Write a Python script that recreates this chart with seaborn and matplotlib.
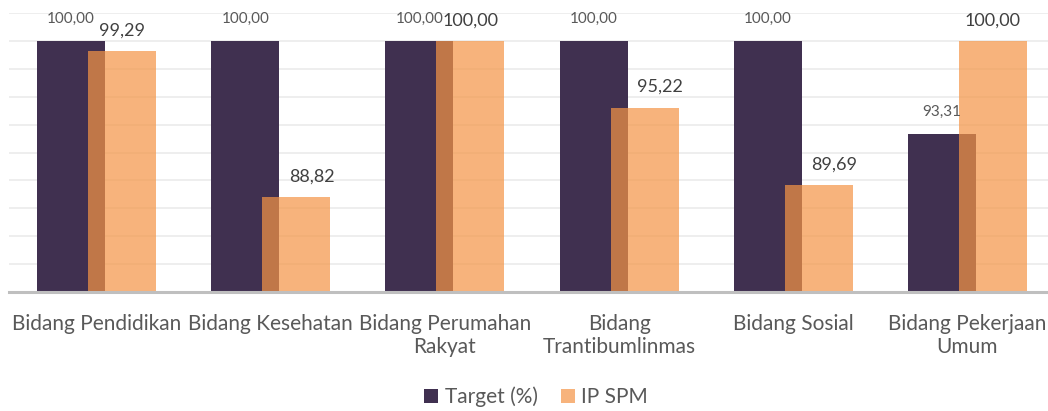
import matplotlib
matplotlib.use("Agg")
import matplotlib.pyplot as plt
import seaborn as sns
import pandas as pd
from matplotlib.patches import Patch

categories = ["Bidang Pendidikan", "Bidang Kesehatan", "Bidang Perumahan\nRakyat",
              "Bidang\nTrantibumlinmas", "Bidang Sosial", "Bidang Pekerjaan\nUmum"]
target = [100.00, 100.00, 100.00, 100.00, 100.00, 93.31]
ip_spm = [99.29, 88.82, 100.00, 95.22, 89.69, 100.00]
series_names = ["Target (%)", "IP SPM"]

sns.set_theme(style="white")
plt.rcParams['font.family'] = ['Lato', 'DejaVu Sans']

C_T = "#403050"
C_I = "#F59546"
ALPHA_I = 0.71
BW = 0.39
OFF = 0.146

fig = plt.figure(figsize=(10.48, 4.11), dpi=100)
ax = fig.add_axes([9.4 / 1048, 1 - 292 / 411, 1045.2 / 1048, (292 - 13) / 411])

df_t = pd.DataFrame({"cat": categories, "val": target})
df_i = pd.DataFrame({"cat": categories, "val": ip_spm})

sns.barplot(data=df_t, x="cat", y="val", color=C_T, width=BW, saturation=1, ax=ax,
            zorder=2, linewidth=0, edgecolor="none")
n_t = len(ax.patches)
for p in ax.patches[:n_t]:
    p.set_x(p.get_x() - OFF)
sns.barplot(data=df_i, x="cat", y="val", color=C_I, width=BW, saturation=1, ax=ax,
            zorder=3, alpha=ALPHA_I, linewidth=0, edgecolor="none")
for p in ax.patches[n_t:]:
    p.set_x(p.get_x() + OFF)
    p.set_alpha(ALPHA_I)

t_patches = ax.patches[:n_t]
i_patches = ax.patches[n_t:]

for p, v in zip(t_patches, target):
    ax.annotate(f"{v:.2f}".replace(".", ","), (p.get_x() + p.get_width() / 2, v),
                xytext=(0, 11), textcoords="offset points", ha="center", va="bottom",
                fontsize=11, color="#595959", zorder=6)
for p, tp, v, t in zip(i_patches, t_patches, ip_spm, target):
    label = f"{v:.2f}".replace(".", ",")
    if v < t - 1.5:
        # label would collide with the taller target bar: shift it beside that bar
        ax.annotate(label, (tp.get_x() + tp.get_width(), v),
                    xytext=(7, 9), textcoords="offset points", ha="left", va="bottom",
                    fontsize=13, color="#404040", zorder=6)
    else:
        ax.annotate(label, (p.get_x() + p.get_width() / 2, v),
                    xytext=(0, 9), textcoords="offset points", ha="center", va="bottom",
                    fontsize=13, color="#404040", zorder=6)

ax.set_ylim(82, 102)
ax.set_xlim(-0.5, 5.5)
ax.set_yticks(range(82, 103, 2))
ax.yaxis.grid(True, color="#EBEBEB", linewidth=1.2, zorder=0)
ax.set_axisbelow(True)
ax.tick_params(axis="y", left=False, labelleft=False)
ax.tick_params(axis="x", bottom=False, labelsize=15, labelcolor="#595959", pad=10)
ax.set_xlabel("")
ax.set_ylabel("")
for s in ["top", "left", "right"]:
    ax.spines[s].set_visible(False)
ax.spines["bottom"].set_color("#BFBFBF")
ax.spines["bottom"].set_linewidth(2.2)
ax.spines["bottom"].set_zorder(4)

handles = [Patch(facecolor=C_T, edgecolor="none"),
           Patch(facecolor=C_I, alpha=ALPHA_I, edgecolor="none")]
fig.legend(handles, series_names, loc="center", bbox_to_anchor=(536 / 1048, 1 - 397 / 411),
           ncol=2, frameon=False, fontsize=15, labelcolor="#595959",
           handlelength=0.67, handleheight=0.67, handletextpad=0.3, columnspacing=1.1)

fig.savefig("out.png", dpi=100)
